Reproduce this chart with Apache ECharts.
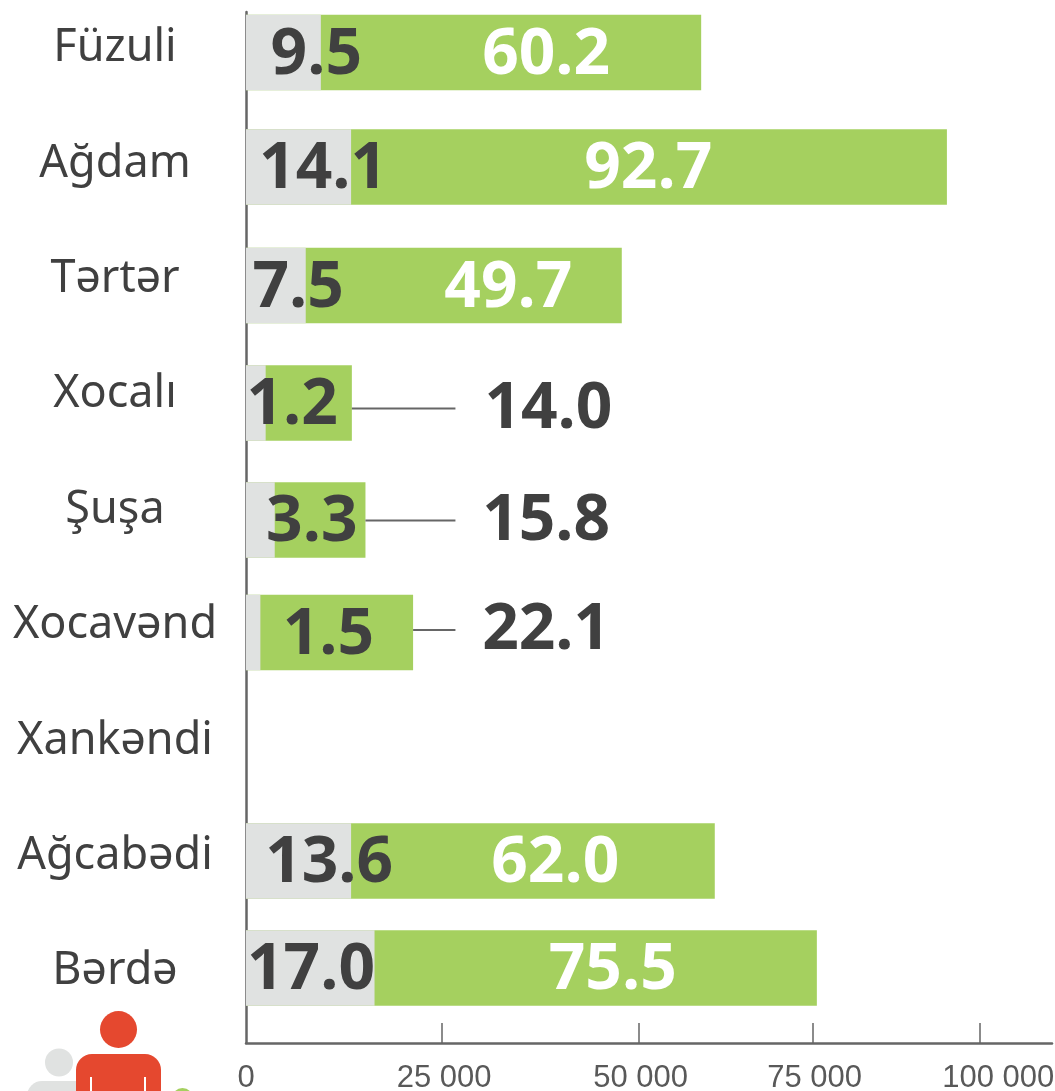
<!DOCTYPE html>
<html>
<head>
<meta charset="utf-8">
<style>
html, body { margin: 0; padding: 0; background: #fff; }
#chart { width: 1055px; height: 1091px; }
</style>
<script src="https://cdn.jsdelivr.net/npm/echarts@6/dist/echarts.min.js"></script>
</head>
<body>
<div id="chart"></div>
<script>
var categories = ['Füzuli', 'Ağdam', 'Tərtər', 'Xocalı', 'Şuşa', 'Xocavənd', 'Xankəndi', 'Ağcabədi', 'Bərdə'];
// total length of each bar, same as the number printed on the green part
var greenValues = [60.2, 92.7, 49.7, 14.0, 15.8, 22.1, null, 62.0, 75.5];
// number printed on the grey part
var greyLabels = [9.5, 14.1, 7.5, 1.2, 3.3, 1.5, null, 13.6, 17.0];
// grey part as measured on the picture, it does not always agree with its label
var greyValues = [9.9, 13.9, 7.9, 2.6, 3.8, 1.9, null, 13.9, 17.0];

var xTickLabels = ['0', '25 000', '50 000', '75 000', '100 000'];
var xLabelAt = [0, 26.2, 52.2, 75.2, 99.5];
var xTickAt = [25.9, 51.9, 75, 97.1];

// the rows of bars are not evenly spaced in the original
var barRow = [0.065, 1.057, 2.084, 3.102, 4.116, 5.091, 6, 7.071, 7.998];
var outerRow = [null, null, null, 3.15, 4.12, 5.07, null, null, null];
var greyLabelAt = [9.3, 10.2, 6.9, 6.1, 8.7, 10.9, null, 11, 8.6];
var greenLabelAt = [39.7, 53.2, 34.7, 40, 39.7, 39.7, null, 40.9, 48.5];
var leaderEnd = 27.7;
var barThickness = 0.655;

var dark = '#404040';
var axisGrey = '#666666';
var digitFont = '700 64px "Open Sans"';

var rows = categories.map(function (c, i) {
    return [greenValues[i], greyValues[i], barRow[i], i];
});

function renderRow(params, api) {
    var total = api.value(0);
    if (isNaN(total)) {
        return;
    }
    var i = api.value(3);
    var h = api.size([0, barThickness])[1];
    var origin = api.coord([0, barRow[i]]);
    var greenEnd = api.coord([total, barRow[i]])[0];
    var greyEnd = api.coord([api.value(1), barRow[i]])[0];
    var top = origin[1] - h / 2;
    var outside = outerRow[i] !== null;
    var textRow = outside ? outerRow[i] : barRow[i];

    var children = [
        { type: 'rect', shape: { x: origin[0], y: top, width: greenEnd - origin[0], height: h }, style: { fill: '#a5d05f' } },
        { type: 'rect', shape: { x: origin[0], y: top, width: greyEnd - origin[0], height: h }, style: { fill: '#e0e2e1' } },
        {
            type: 'text',
            style: {
                x: api.coord([greyLabelAt[i], 0])[0], y: origin[1] + 3,
                text: greyLabels[i].toFixed(1), font: digitFont, fill: dark,
                align: 'center', verticalAlign: 'middle'
            }
        },
        {
            type: 'text',
            style: {
                x: api.coord([greenLabelAt[i], 0])[0], y: api.coord([0, textRow])[1] + (outside ? 1 : 3),
                text: total.toFixed(1), font: digitFont, fill: outside ? dark : '#ffffff',
                align: 'center', verticalAlign: 'middle'
            }
        }
    ];
    if (outside) {
        var ly = api.coord([0, outerRow[i]])[1];
        children.push({
            type: 'line',
            shape: { x1: greenEnd, y1: ly, x2: api.coord([leaderEnd, 0])[0], y2: ly },
            style: { stroke: axisGrey, lineWidth: 2 }
        });
    }
    return { type: 'group', children: children };
}

var myChart = echarts.init(document.getElementById('chart'), null, { renderer: 'canvas' });
myChart.setOption({
    animation: false,
    backgroundColor: '#ffffff',
    grid: { left: 246, top: 12, width: 806, height: 1031, containLabel: false, outerBoundsMode: 'none' },
    xAxis: {
        type: 'value',
        position: 'bottom',
        min: 0,
        max: 106.6,
        splitLine: { show: false },
        axisLine: { show: true, onZero: false, lineStyle: { color: axisGrey, width: 2.5 } },
        axisTick: { show: true, inside: true, length: 20, customValues: xTickAt, lineStyle: { color: axisGrey, width: 1.5 } },
        axisLabel: {
            customValues: xLabelAt,
            margin: 20,
            color: '#595959',
            fontFamily: 'Liberation Sans',
            fontSize: 31,
            formatter: function (v) {
                return xTickLabels[xLabelAt.indexOf(v)];
            }
        }
    },
    yAxis: {
        type: 'value',
        inverse: true,
        min: -0.286,
        max: 8.648,
        splitLine: { show: false },
        axisLine: { show: true, onZero: false, lineStyle: { color: axisGrey, width: 2.5 } },
        axisTick: { show: false },
        axisLabel: {
            customValues: categories.map(function (c, i) { return i + 0.03; }),
            margin: 131,
            align: 'center',
            color: dark,
            fontFamily: 'Noto Sans',
            fontSize: 45,
            formatter: function (v) {
                return categories[Math.round(v)];
            }
        }
    },
    series: [{
        type: 'custom',
        clip: false,
        silent: true,
        encode: { x: [0, 1], y: 2 },
        data: rows,
        renderItem: renderRow
    }],
    // the small people icon under the labels
    graphic: [
        { type: 'circle', shape: { cx: 59, cy: 1062.5, r: 14 }, style: { fill: '#e0e2e1' } },
        { type: 'rect', shape: { x: 27, y: 1081, width: 63, height: 30, r: [15, 15, 0, 0] }, style: { fill: '#e0e2e1' } },
        { type: 'circle', shape: { cx: 118.5, cy: 1029.5, r: 18.5 }, style: { fill: '#e5482f' } },
        { type: 'rect', shape: { x: 76, y: 1054, width: 85, height: 60, r: [16, 16, 0, 0] }, style: { fill: '#e5482f' } },
        { type: 'line', shape: { x1: 91, y1: 1077, x2: 91, y2: 1091 }, style: { stroke: '#ffffff', lineWidth: 2 } },
        { type: 'line', shape: { x1: 145, y1: 1077, x2: 145, y2: 1091 }, style: { stroke: '#ffffff', lineWidth: 2 } },
        { type: 'circle', shape: { cx: 182.5, cy: 1098.5, r: 10.5 }, style: { fill: '#a5d05f' } }
    ]
});
</script>
</body>
</html>
